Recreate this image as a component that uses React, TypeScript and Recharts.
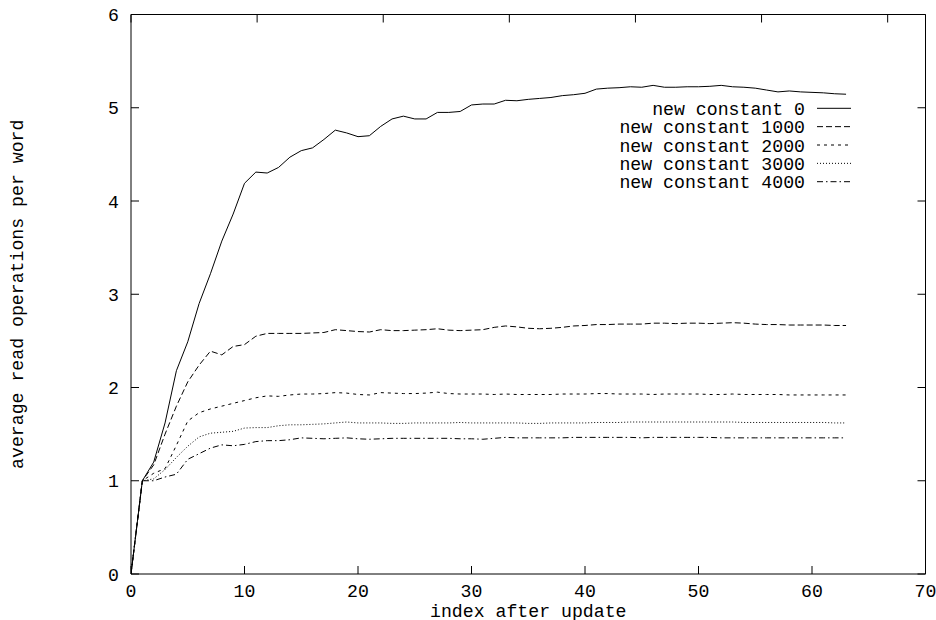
import React from 'react';
import { LineChart, Line, XAxis, YAxis, Legend } from 'recharts';

const indices = [
  0, 1, 2, 3, 4, 5, 6, 7, 8, 9, 10, 11, 12, 13, 14, 15, 16, 17, 18, 19, 20, 21, 22, 23, 24, 25, 26, 27, 28, 29, 30, 31,
  32, 33, 34, 35, 36, 37, 38, 39, 40, 41, 42, 43, 44, 45, 46, 47, 48, 49, 50, 51, 52, 53, 54, 55, 56, 57, 58, 59, 60, 61, 62, 63,
];

const seriesNames = ['new constant 0', 'new constant 1000', 'new constant 2000', 'new constant 3000', 'new constant 4000'];

const c0 = [
  0, 1.0, 1.2, 1.62, 2.18, 2.49, 2.9, 3.22, 3.57, 3.86, 4.19, 4.31, 4.3, 4.36, 4.47, 4.54, 4.57, 4.66, 4.76, 4.73, 4.69, 4.7,
  4.8, 4.88, 4.91, 4.88, 4.88, 4.95, 4.95, 4.96, 5.03, 5.04, 5.04, 5.08, 5.075, 5.09, 5.1, 5.11, 5.13, 5.14, 5.155, 5.2, 5.21,
  5.215, 5.225, 5.22, 5.24, 5.22, 5.22, 5.225, 5.225, 5.23, 5.24, 5.225, 5.22, 5.21, 5.19, 5.17, 5.18, 5.17, 5.165, 5.16, 5.15, 5.145,
];

const c1000 = [
  0, 1.0, 1.17, 1.5, 1.8, 2.06, 2.24, 2.39, 2.35, 2.44, 2.46, 2.55, 2.58, 2.58, 2.58, 2.58, 2.585, 2.59, 2.62, 2.61, 2.6, 2.595,
  2.62, 2.61, 2.61, 2.615, 2.62, 2.63, 2.615, 2.61, 2.615, 2.62, 2.645, 2.66, 2.65, 2.635, 2.63, 2.635, 2.645, 2.66, 2.665, 2.675,
  2.675, 2.68, 2.68, 2.68, 2.69, 2.69, 2.685, 2.69, 2.69, 2.685, 2.69, 2.695, 2.69, 2.68, 2.675, 2.675, 2.67, 2.67, 2.67, 2.67, 2.665, 2.665,
];

const c2000 = [
  0, 1.0, 1.08, 1.13, 1.38, 1.64, 1.73, 1.77, 1.8, 1.83, 1.86, 1.89, 1.91, 1.905, 1.92, 1.93, 1.93, 1.935, 1.945, 1.94, 1.925, 1.92,
  1.945, 1.94, 1.935, 1.935, 1.94, 1.95, 1.935, 1.93, 1.93, 1.93, 1.925, 1.93, 1.925, 1.925, 1.925, 1.925, 1.93, 1.93, 1.93, 1.935,
  1.935, 1.93, 1.93, 1.93, 1.925, 1.93, 1.93, 1.93, 1.93, 1.925, 1.925, 1.93, 1.925, 1.925, 1.925, 1.925, 1.92, 1.92, 1.92, 1.92, 1.92, 1.92,
];

const c3000 = [
  0, 1.0, 1.02, 1.12, 1.25, 1.37, 1.47, 1.51, 1.52, 1.53, 1.565, 1.57, 1.57, 1.59, 1.6, 1.6, 1.605, 1.61, 1.62, 1.63, 1.62, 1.62,
  1.62, 1.615, 1.615, 1.62, 1.62, 1.62, 1.62, 1.625, 1.62, 1.62, 1.62, 1.62, 1.62, 1.615, 1.615, 1.62, 1.62, 1.62, 1.62, 1.625,
  1.625, 1.625, 1.63, 1.63, 1.63, 1.63, 1.63, 1.63, 1.63, 1.63, 1.63, 1.63, 1.625, 1.625, 1.625, 1.625, 1.625, 1.625, 1.625, 1.625, 1.62, 1.62,
];

const c4000 = [
  0, 1.0, 1.0, 1.04, 1.07, 1.23, 1.29, 1.35, 1.385, 1.375, 1.39, 1.42, 1.43, 1.43, 1.44, 1.46, 1.455, 1.45, 1.455, 1.46, 1.45, 1.445,
  1.45, 1.455, 1.455, 1.455, 1.455, 1.455, 1.455, 1.45, 1.45, 1.445, 1.455, 1.465, 1.46, 1.46, 1.46, 1.46, 1.46, 1.465, 1.465, 1.465,
  1.465, 1.465, 1.465, 1.46, 1.465, 1.465, 1.465, 1.465, 1.465, 1.465, 1.46, 1.46, 1.46, 1.46, 1.46, 1.46, 1.46, 1.46, 1.46, 1.46, 1.46, 1.46,
];

const xTicks = [0, 10, 20, 30, 40, 50, 60, 70];
const yTicks = [0, 1, 2, 3, 4, 5, 6];

const seriesValues = [c0, c1000, c2000, c3000, c4000];
const seriesKeys = ['c0', 'c1000', 'c2000', 'c3000', 'c4000'];
const dashes = ['', '6 3', '3 4', '1 2', '6 3 1.5 3'];

const data = indices.map((x, i) => {
  const row: Record<string, number> = { x };
  seriesKeys.forEach((k, j) => {
    row[k] = seriesValues[j][i];
  });
  return row;
});

const FONT = '"Liberation Mono", "DejaVu Sans Mono", monospace';
const FS = 18.2;
const TICK_LEN = 8;

const BottomTick = (props: any) => {
  const { x, y, payload } = props;
  return (
    <g>
      <line x1={x} y1={y} x2={x} y2={y - TICK_LEN} stroke="#000" strokeWidth={1} />
      <text x={x} y={y + 22.5} textAnchor="middle" fontFamily={FONT} fontSize={FS} fill="#000">
        {payload.value}
      </text>
    </g>
  );
};

const TopTick = (props: any) => {
  const { x, y } = props;
  return <line x1={x} y1={y} x2={x} y2={y + TICK_LEN} stroke="#000" strokeWidth={1} />;
};

const LeftTick = (props: any) => {
  const { x, y, payload } = props;
  return (
    <g>
      <line x1={x} y1={y} x2={x + TICK_LEN} y2={y} stroke="#000" strokeWidth={1} />
      <text x={x - 12} y={y + 6.5} textAnchor="end" fontFamily={FONT} fontSize={FS} fill="#000">
        {payload.value}
      </text>
    </g>
  );
};

const RightTick = (props: any) => {
  const { x, y } = props;
  return <line x1={x} y1={y} x2={x - TICK_LEN} y2={y} stroke="#000" strokeWidth={1} />;
};

const XTitle = (props: any) => {
  const vb = props.viewBox;
  return (
    <text x={vb.x + vb.width / 2} y={vb.y + vb.height - 3.5} textAnchor="middle" fontFamily={FONT} fontSize={FS} fill="#000">
      index after update
    </text>
  );
};

const YTitle = (props: any) => {
  const vb = props.viewBox;
  const cx = vb.x + 18;
  const cy = vb.y + vb.height / 2;
  return (
    <text
      x={cx}
      y={cy}
      transform={`rotate(-90 ${cx} ${cy})`}
      textAnchor="middle"
      dominantBaseline="central"
      fontFamily={FONT}
      fontSize={FS}
      fill="#000"
    >
      average read operations per word
    </text>
  );
};

const LegendContent = () => (
  <svg width={260} height={100} style={{ display: 'block' }}>
    {seriesNames.map((n, i) => {
      const cy = 13.3 + 18.35 * i;
      return (
        <g key={n}>
          <text x={205} y={cy + 6.5} textAnchor="end" fontFamily={FONT} fontSize={FS} fill="#000">
            {n}
          </text>
          <line x1={217} x2={251} y1={cy} y2={cy} stroke="#000" strokeWidth={1} strokeDasharray={dashes[i] || undefined} />
        </g>
      );
    })}
  </svg>
);

export default function App() {
  return (
    <div style={{ position: 'absolute', left: 0, top: 0, width: 936, height: 620, background: '#fff' }}>
      <LineChart width={936} height={620} data={data} margin={{ top: 13.5, right: 9.5, bottom: 0, left: 0 }}>
        <XAxis
          dataKey="x"
          type="number"
          domain={[0, 70]}
          ticks={xTicks}
          interval={0}
          height={46}
          tickSize={0}
          tickMargin={0}
          tickLine={false}
          axisLine={{ stroke: '#000', strokeWidth: 1 }}
          tick={<BottomTick />}
          label={{ content: <XTitle /> }}
          allowDataOverflow
        />
        <XAxis
          xAxisId="top"
          orientation="top"
          type="number"
          domain={[0, 70]}
          ticks={xTicks}
          interval={0}
          height={1}
          tickSize={0}
          tickMargin={0}
          tickLine={false}
          axisLine={{ stroke: '#000', strokeWidth: 1 }}
          tick={<TopTick />}
          allowDataOverflow
        />
        <YAxis
          type="number"
          domain={[0, 6]}
          ticks={yTicks}
          interval={0}
          width={131}
          tickSize={0}
          tickMargin={0}
          tickLine={false}
          axisLine={{ stroke: '#000', strokeWidth: 1 }}
          tick={<LeftTick />}
          label={{ content: <YTitle /> }}
          allowDataOverflow
        />
        <YAxis
          yAxisId="right"
          orientation="right"
          type="number"
          domain={[0, 6]}
          ticks={yTicks}
          interval={0}
          width={1}
          tickSize={0}
          tickMargin={0}
          tickLine={false}
          axisLine={{ stroke: '#000', strokeWidth: 1 }}
          tick={<RightTick />}
          allowDataOverflow
        />
        <Legend
          layout="vertical"
          align="center"
          verticalAlign="middle"
          content={<LegendContent />}
          wrapperStyle={{ position: 'absolute', left: 600, top: 95, width: 260, height: 100 }}
        />
        {seriesKeys.map((k, i) => (
          <Line
            key={k}
            dataKey={k}
            name={seriesNames[i]}
            type="linear"
            stroke="#000"
            strokeWidth={1}
            strokeDasharray={dashes[i] || undefined}
            dot={false}
            activeDot={false}
            isAnimationActive={false}
          />
        ))}
      </LineChart>
    </div>
  );
}
